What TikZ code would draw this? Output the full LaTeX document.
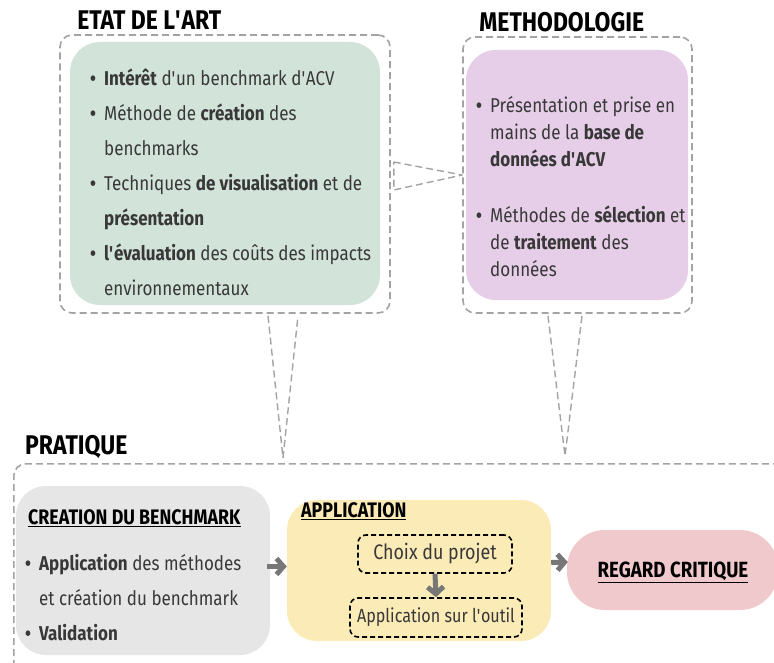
\documentclass[tikz,border=0pt]{standalone}
\usepackage{fontspec}
\setmainfont{Fira Sans}[FakeStretch=0.85]
\usetikzlibrary{arrows.meta, positioning, calc}
\definecolor{artgreen}{HTML}{D2E3DA}
\definecolor{methpurple}{HTML}{E7CEE8}
\definecolor{benchgrey}{HTML}{E6E6E6}
\definecolor{appyellow}{HTML}{FBEBB6}
\definecolor{critpink}{HTML}{F0C9CC}
\definecolor{framegrey}{HTML}{A3A3A3}
\definecolor{arrowgrey}{HTML}{777777}
\definecolor{textgrey}{HTML}{383838}
\newcommand{\blt}{\makebox[14pt][l]{\textbf{\textbullet}}}
\newcommand{\bsp}{\hspace*{14pt}}
\newcommand{\ap}{\textquotesingle}

\begin{document}
\begin{tikzpicture}[x=1pt, y=-1pt, font=\fontsize{20}{35}\selectfont,
    frame/.style={draw=framegrey, dash pattern=on 7pt off 4pt, line width=1.6pt,
      rounded corners=12pt, inner sep=0pt},
    box/.style={rectangle, rounded corners=30pt, inner sep=0pt},
    title/.style={font=\fontsize{27}{27}\selectfont\bfseries, inner sep=0pt},
    list/.style={align=left, inner sep=0pt, text=textgrey},
    sub/.style={rectangle, draw=black, dash pattern=on 5pt off 3pt, line width=1.6pt,
      rounded corners=8pt, inner sep=0pt, text=textgrey},
    flow/.style={-{Straight Barb[length=7pt, width=16pt]}, line width=5pt, arrowgrey},
    callout/.style={draw=framegrey, dash pattern=on 7pt off 4pt, line width=1.4pt,
      line join=round}]

    \clip (0,0) rectangle (774,663);

    % Etat de l'art
    \node (etatframe) [frame, minimum width=330pt, minimum height=278pt] at (225,174) {};
    \node (etat) [box, fill=artgreen, minimum width=310pt, minimum height=263pt] at (225,173.5) {};
    \node (etattitle) [title, above right=4pt and 18pt of etatframe.north west] {ETAT DE L\ap ART};
    \node (etatlist) [list, anchor=north west] at (90,69) {%
      \blt\textbf{Intérêt} d\ap un benchmark d\ap ACV\\
      \blt Méthode de \textbf{création} des\\
      \bsp benchmarks\\
      \blt Techniques \textbf{de visualisation} et de\\
      \bsp\textbf{présentation}\\
      \blt\textbf{l\ap évaluation} des coûts des impacts\\
      \bsp environnementaux};

    % Methodologie
    \node (methframe) [frame, minimum width=229pt, minimum height=276pt] at (577.5,175) {};
    \node (meth) [box, fill=methpurple, minimum width=222pt, minimum height=250pt] at (577,175) {};
    \node (methtitle) [title, above right=4pt and 17pt of methframe.north west] {METHODOLOGIE};
    \node (methlist) [list, anchor=north west, font=\fontsize{20}{27}\selectfont] at (476,96) {%
      \blt Présentation et prise en\\
      \bsp mains de la \textbf{base de}\\
      \bsp\textbf{données d\ap ACV}\\[29pt]
      \blt Méthodes de \textbf{sélection} et\\
      \bsp de \textbf{traitement} des\\
      \bsp données};

    % Pratique
    \node (pratframe) [frame, anchor=north west, minimum width=800pt, minimum height=250pt] at (13,463) {};
    \node (prattitle) [title, above right=4pt and 12pt of pratframe.north west] {PRATIQUE};

    \node (bench) [box, fill=benchgrey, minimum width=254pt, minimum height=169pt] at (143,570.5) {};
    \node (benchtitle) [anchor=west, inner sep=0pt, font=\fontsize{21}{21}\selectfont\bfseries]
      at (28,518) {\underline{CREATION DU BENCHMARK}};
    \node (benchlist) [list, anchor=north west] at (25,554) {%
      \blt\textbf{Application} des méthodes\\
      \bsp et création du benchmark\\
      \blt\textbf{Validation}};

    \node (appli) [box, fill=appyellow, minimum width=264pt, minimum height=141pt] at (419,570.5) {};
    \node (applititle) [anchor=west, inner sep=0pt, font=\fontsize{21}{21}\selectfont\bfseries]
      at (301,511) {\underline{APPLICATION}};
    \node (choix) [sub, minimum width=154pt, minimum height=38pt, font=\fontsize{21}{21}\selectfont]
      at (435,554) {Choix du projet};
    \node (outil) [sub, minimum width=172pt, minimum height=39pt, font=\fontsize{19}{19}\selectfont]
      at (436,617.5) {Application sur l\ap outil};

    \node (regard) [box, rounded corners=38pt, fill=critpink, minimum width=211pt, minimum height=80pt]
      at (672.5,570) {};
    \node (regardtitle) [inner sep=0pt, font=\fontsize{22}{22}\selectfont\bfseries]
      at (673,572) {\underline{REGARD CRITIQUE}};

    % Callouts
    \coordinate (tipA) at (283,458);
    \coordinate (tipB) at (565,456);
    \draw[callout] ($(etatframe.east)+(3,-12)$) -- (methframe.west) -- ($(etatframe.east)+(3,16)$) -- cycle;
    \draw[callout] ($(etatframe.south)+(43,2)$) -- (tipA) -- ($(etatframe.south)+(73,2)$);
    \draw[callout] ($(methframe.south)+(-29.5,2)$) -- (tipB) -- ($(methframe.south)+(4.5,2)$);

    % Flow arrows
    \draw[flow] ($(bench.east)+(-3,-4)$) -- ($(appli.west)+(0,-4)$);
    \draw[flow] (choix.south) -- (outil.north);
    \draw[flow] ($(appli.east)+(0,-8)$) -- ($(regard.west)+(1,-8)$);
\end{tikzpicture}
\end{document}
